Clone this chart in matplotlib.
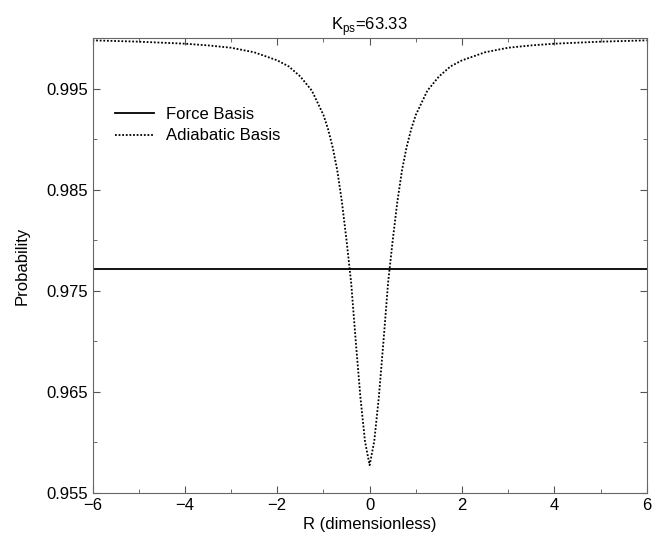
import numpy as np
import matplotlib
matplotlib.use("Agg")
import matplotlib.pyplot as plt
from matplotlib.ticker import MultipleLocator, FixedLocator

# values
r_force = [-6.0, 6.0]
p_force = [0.9772, 0.9772]

r_adiab = [-6.0, -5.0, -4.0, -3.5, -3.0, -2.5, -2.0, -1.75, -1.5, -1.25,
           -1.0, -0.9, -0.8, -0.7, -0.6, -0.5, -0.4, -0.3, -0.2, -0.1,
           0.0,
           0.1, 0.2, 0.3, 0.4, 0.5, 0.6, 0.7, 0.8, 0.9, 1.0,
           1.25, 1.5, 1.75, 2.0, 2.5, 3.0, 3.5, 4.0, 5.0, 6.0]
p_adiab = [0.99978, 0.99965, 0.99945, 0.99928, 0.99905, 0.9986, 0.9978, 0.9972, 0.9962, 0.9948,
           0.9924, 0.9910, 0.9892, 0.9869, 0.9838, 0.9800, 0.9758, 0.9700, 0.9645, 0.9601,
           0.95775,
           0.9601, 0.9645, 0.9700, 0.9758, 0.9800, 0.9838, 0.9869, 0.9892, 0.9910, 0.9924,
           0.9948, 0.9962, 0.9972, 0.9978, 0.9986, 0.99905, 0.99928, 0.99945, 0.99965, 0.99978]

y_major = [0.955, 0.965, 0.975, 0.985, 0.995]
y_minor = [0.96, 0.97, 0.98, 0.99]

plt.rcParams['font.family'] = ['Liberation Sans', 'DejaVu Sans']
plt.rcParams['mathtext.fontset'] = 'custom'
plt.rcParams['mathtext.rm'] = 'Liberation Sans'

fig = plt.figure(figsize=(6.52, 5.37), dpi=100)
ax = fig.add_axes([0.1419, 0.082, 0.85, 0.847])

ax.plot(r_force, p_force, color='black', lw=1.3, label='Force Basis')
ax.plot(r_adiab, p_adiab, color='black', lw=1.3, ls=(0, (1, 1)), label='Adiabatic Basis')

ax.set_xlim(-6, 6)
ax.set_ylim(0.955, 1.0)
ax.xaxis.set_major_locator(MultipleLocator(2))
ax.xaxis.set_minor_locator(MultipleLocator(1))
ax.yaxis.set_major_locator(FixedLocator(y_major))
ax.yaxis.set_minor_locator(FixedLocator(y_minor))
ax.set_yticklabels([f'{v:.3f}' for v in y_major])
ax.tick_params(which='both', direction='in', top=True, right=True, labelsize=12, color='#555555')
ax.tick_params(which='major', length=5)
ax.tick_params(which='minor', length=3)
for s in ax.spines.values():
    s.set_color('#666666')

ax.set_xlabel('R (dimensionless)', fontsize=12, labelpad=3)
ax.set_ylabel('Probability', fontsize=12, labelpad=12)
ax.set_title(r'K$_{\rm ps}$=63.33', fontsize=12, pad=6)

ax.legend(loc='upper left', bbox_to_anchor=(0.028, 0.863), frameon=False, fontsize=12,
          handlelength=2.35, handletextpad=0.75, labelspacing=0.38, borderaxespad=0)

fig.savefig('out.png', dpi=100)
